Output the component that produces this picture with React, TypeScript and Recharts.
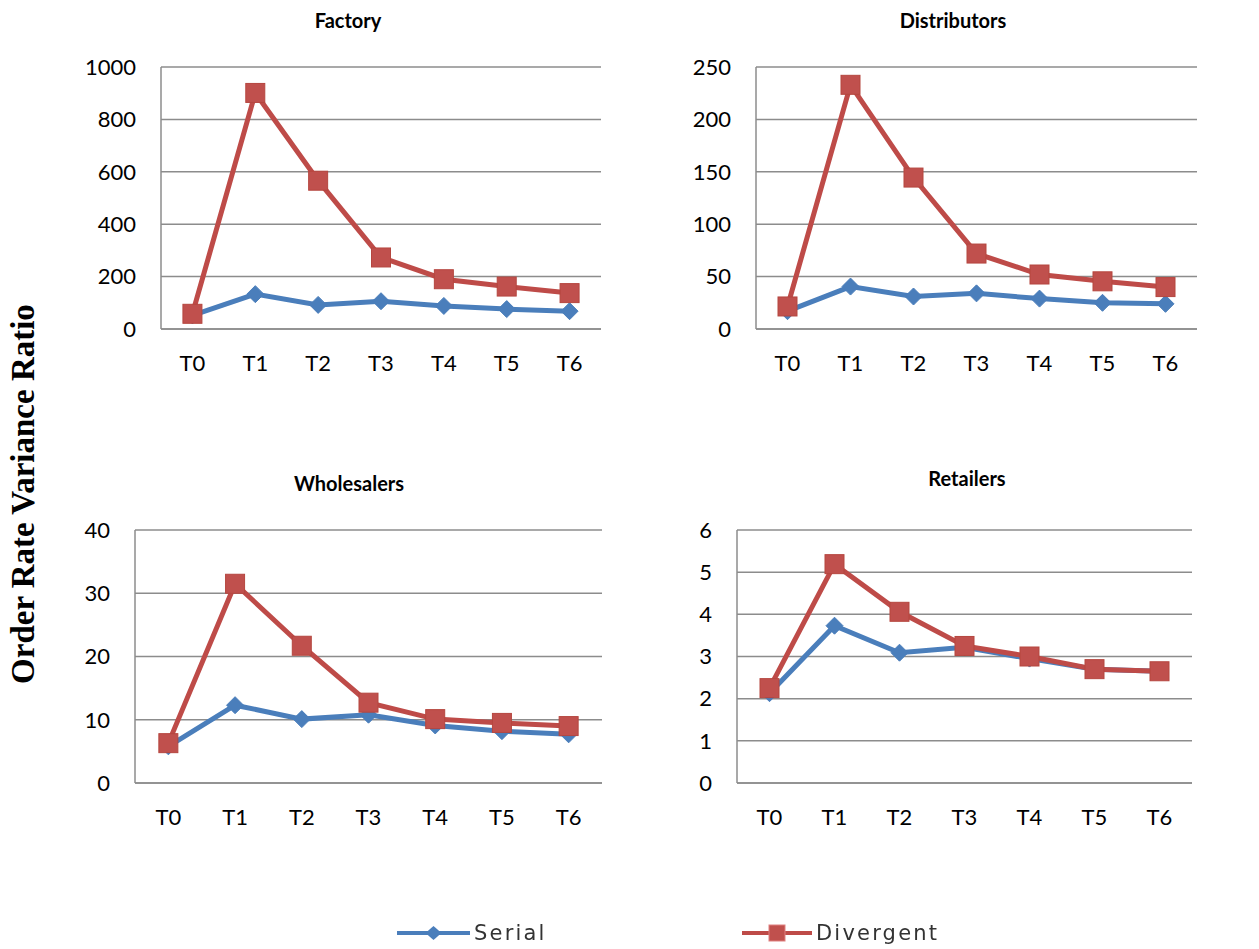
import React from 'react';
import { LineChart, Line, XAxis, YAxis, CartesianGrid } from 'recharts';

const categories = ['T0', 'T1', 'T2', 'T3', 'T4', 'T5', 'T6'];

const factorySerial = [52, 133, 92, 106, 88, 76, 68];
const factoryDivergent = [58, 901, 566, 273, 190, 162, 137];
const factoryTicks = [0, 200, 400, 600, 800, 1000];

const distributorsSerial = [17, 40.5, 31, 34, 29, 25, 24];
const distributorsDivergent = [21.5, 233, 144.5, 72, 52, 45.5, 40];
const distributorsTicks = [0, 50, 100, 150, 200, 250];

const wholesalersSerial = [5.8, 12.3, 10.1, 10.8, 9.1, 8.2, 7.7];
const wholesalersDivergent = [6.3, 31.5, 21.7, 12.7, 10.1, 9.5, 9.0];
const wholesalersTicks = [0, 10, 20, 30, 40];

const retailersSerial = [2.13, 3.73, 3.09, 3.22, 2.95, 2.7, 2.65];
const retailersDivergent = [2.25, 5.19, 4.06, 3.25, 3.0, 2.7, 2.65];
const retailersTicks = [0, 1, 2, 3, 4, 5, 6];

const SERIAL = '#4A7EBB';
const DIVERGENT = '#BE4B48';
const GRID = '#8C8C8C';
const FONT = 'Lato, "Open Sans", sans-serif';

const buildRows = (serial: number[], divergent: number[]) =>
  categories.map((name, i) => ({ name, serial: serial[i], divergent: divergent[i] }));

const Diamond = (props: any) => {
  const { cx, cy, index } = props;
  if (cx == null || cy == null) return <g key={`d-${index}`} />;
  const r = 8.5;
  return (
    <path
      key={`d-${index}`}
      d={`M${cx},${cy - r}L${cx + r},${cy}L${cx},${cy + r}L${cx - r},${cy}Z`}
      fill={SERIAL}
      stroke={SERIAL}
      strokeWidth={1}
    />
  );
};

const Square = (props: any) => {
  const { cx, cy, index } = props;
  if (cx == null || cy == null) return <g key={`s-${index}`} />;
  const s = 19;
  return (
    <rect
      key={`s-${index}`}
      x={cx - s / 2}
      y={cy - s / 2}
      width={s}
      height={s}
      fill="#C0504D"
      stroke="#B5463F"
      strokeWidth={1}
    />
  );
};

interface PanelProps {
  title: string;
  serial: number[];
  divergent: number[];
  ticks: number[];
  plot: { left: number; top: number; right: number; bottom: number };
  titleAt: { x: number; y: number };
}

const AXIS_W = 100;
const PAD_TOP = 16;
const PAD_RIGHT = 12;
const X_AXIS_H = 60;

const Panel = ({ title, serial, divergent, ticks, plot, titleAt }: PanelProps) => {
  const plotW = plot.right - plot.left;
  const plotH = plot.bottom - plot.top;
  const band = plotW / categories.length / 2;
  const rows = buildRows(serial, divergent);
  return (
    <>
      <div
        style={{
          position: 'absolute',
          left: titleAt.x - 150,
          top: titleAt.y - 13,
          width: 300,
          textAlign: 'center',
          fontFamily: FONT,
          fontWeight: 700,
          fontSize: 20,
          lineHeight: '26px',
          color: '#000',
        }}
      >
        {title}
      </div>
      <div style={{ position: 'absolute', left: plot.left - AXIS_W, top: plot.top - PAD_TOP }}>
        <LineChart
          width={plotW + AXIS_W + PAD_RIGHT}
          height={plotH + PAD_TOP + X_AXIS_H}
          data={rows}
          margin={{ top: PAD_TOP, right: PAD_RIGHT, bottom: 0, left: 0 }}
        >
          <CartesianGrid vertical={false} stroke={GRID} strokeWidth={1.5} />
          <XAxis
            dataKey="name"
            height={X_AXIS_H}
            padding={{ left: band, right: band }}
            axisLine={{ stroke: GRID, strokeWidth: 1.5 }}
            tickLine={false}
            tickSize={0}
            tickMargin={26}
            interval={0}
            tick={{ fill: '#000', fontSize: 22, fontFamily: FONT }}
          />
          <YAxis
            width={AXIS_W}
            domain={[ticks[0], ticks[ticks.length - 1]]}
            ticks={ticks}
            interval={0}
            axisLine={{ stroke: GRID, strokeWidth: 1.5 }}
            tickLine={false}
            tickSize={0}
            tickMargin={25}
            tick={{ fill: '#000', fontSize: 22, fontFamily: FONT }}
          />
          <Line
            dataKey="serial"
            stroke={SERIAL}
            strokeWidth={5}
            dot={Diamond}
            activeDot={false}
            isAnimationActive={false}
          />
          <Line
            dataKey="divergent"
            stroke={DIVERGENT}
            strokeWidth={5}
            dot={Square}
            activeDot={false}
            isAnimationActive={false}
          />
        </LineChart>
      </div>
    </>
  );
};

const LegendItem = ({ label, color, marker, lineFrom, lineTo }: {
  label: string;
  color: string;
  marker: 'diamond' | 'square';
  lineFrom: number;
  lineTo: number;
}) => {
  const w = lineTo - lineFrom;
  const c = w / 2;
  return (
    <div style={{ position: 'absolute', left: lineFrom, top: 918, height: 30, display: 'flex', alignItems: 'center' }}>
      <svg width={w} height={30}>
        <line x1={0} y1={15} x2={w} y2={15} stroke={color} strokeWidth={4} />
        {marker === 'diamond' ? (
          <path d={`M${c},${8}L${c + 8},${15}L${c},${22}L${c - 8},${15}Z`} fill={color} />
        ) : (
          <rect x={c - 8} y={7} width={16} height={16} fill="#C0504D" stroke="#E08080" strokeWidth={1} />
        )}
      </svg>
      <span
        style={{
          marginLeft: 4,
          fontFamily: '"DejaVu Sans", sans-serif',
          fontSize: 21,
          letterSpacing: 2.2,
          color: '#333',
        }}
      >
        {label}
      </span>
    </div>
  );
};

export default function App() {
  return (
    <div
      style={{
        position: 'absolute',
        left: 0,
        top: 0,
        width: 1259,
        height: 949,
        background: '#fff',
        overflow: 'hidden',
      }}
    >
      <div
        style={{
          position: 'absolute',
          left: 23 - 240,
          top: 494 - 20,
          width: 480,
          height: 40,
          lineHeight: '40px',
          textAlign: 'center',
          transform: 'rotate(-90deg)',
          fontFamily: '"Liberation Serif", "Times New Roman", serif',
          fontWeight: 700,
          fontSize: 33,
          color: '#000',
        }}
      >
        Order Rate Variance Ratio
      </div>

      <Panel
        title="Factory"
        serial={factorySerial}
        divergent={factoryDivergent}
        ticks={factoryTicks}
        plot={{ left: 161, top: 67, right: 601, bottom: 329 }}
        titleAt={{ x: 348, y: 20 }}
      />
      <Panel
        title="Distributors"
        serial={distributorsSerial}
        divergent={distributorsDivergent}
        ticks={distributorsTicks}
        plot={{ left: 756, top: 67, right: 1197, bottom: 329 }}
        titleAt={{ x: 953, y: 20 }}
      />
      <Panel
        title="Wholesalers"
        serial={wholesalersSerial}
        divergent={wholesalersDivergent}
        ticks={wholesalersTicks}
        plot={{ left: 135, top: 530, right: 602, bottom: 783 }}
        titleAt={{ x: 349, y: 483 }}
      />
      <Panel
        title="Retailers"
        serial={retailersSerial}
        divergent={retailersDivergent}
        ticks={retailersTicks}
        plot={{ left: 737, top: 530, right: 1192, bottom: 783 }}
        titleAt={{ x: 967, y: 478 }}
      />

      <div style={{ filter: 'blur(0.5px)' }}>
        <LegendItem label="Serial" color={SERIAL} marker="diamond" lineFrom={397} lineTo={470} />
        <LegendItem label="Divergent" color={DIVERGENT} marker="square" lineFrom={742} lineTo={812} />
      </div>
    </div>
  );
}
